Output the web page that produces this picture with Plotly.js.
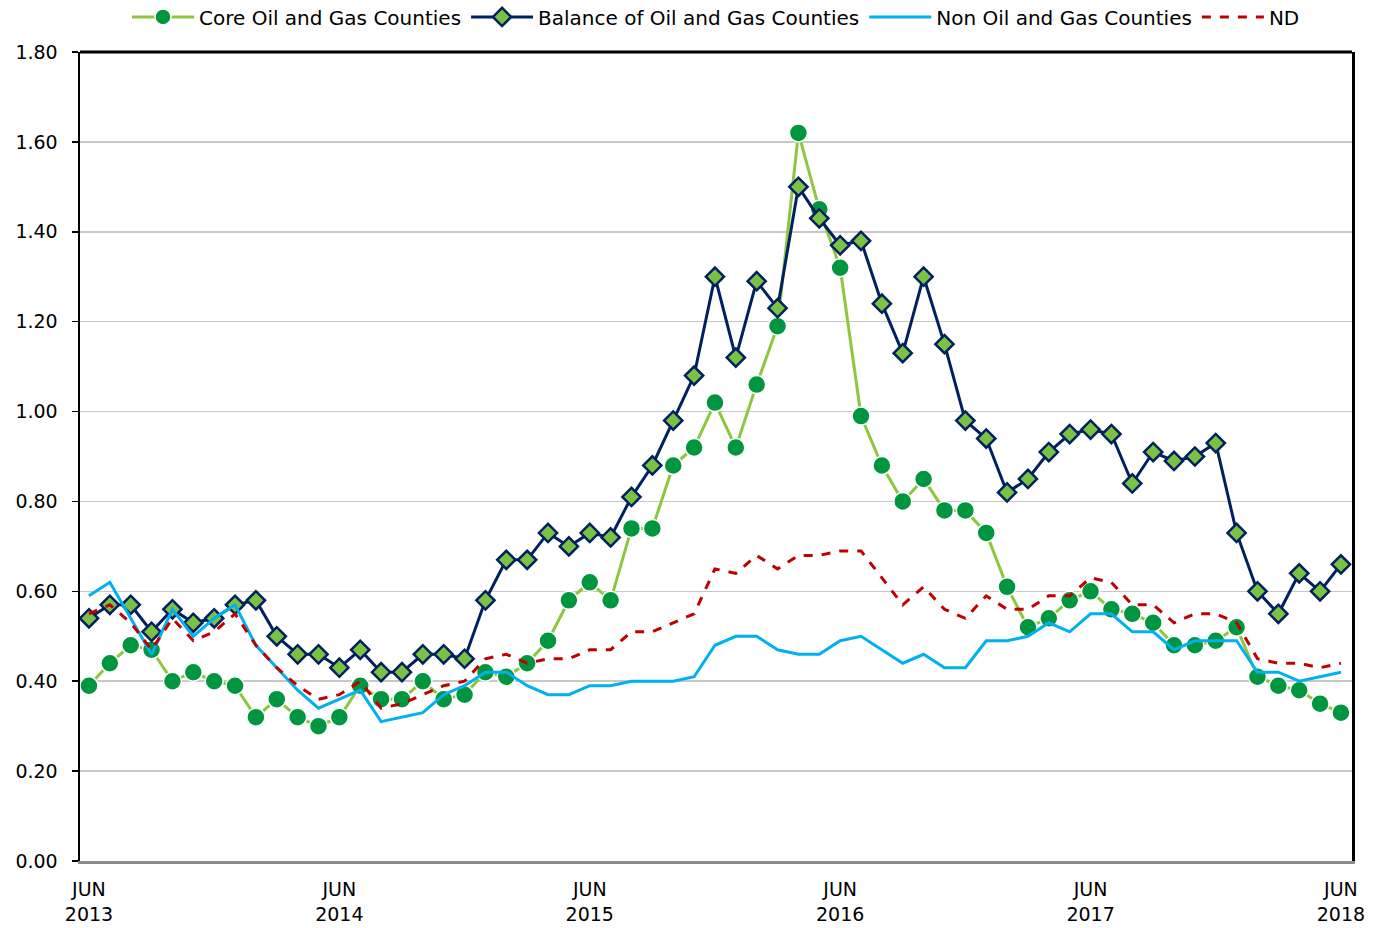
<!DOCTYPE html>
<html>
<head>
<meta charset="utf-8">
<script src="https://cdn.plot.ly/plotly-3.0.1.min.js"></script>
<style>html,body{margin:0;padding:0;background:#fff;}#chart{width:1380px;height:928px;}</style>
</head>
<body>
<div id="chart"></div>
<script>
const months = [
  "2013-06","2013-07","2013-08","2013-09","2013-10","2013-11","2013-12",
  "2014-01","2014-02","2014-03","2014-04","2014-05","2014-06","2014-07","2014-08","2014-09","2014-10","2014-11","2014-12",
  "2015-01","2015-02","2015-03","2015-04","2015-05","2015-06","2015-07","2015-08","2015-09","2015-10","2015-11","2015-12",
  "2016-01","2016-02","2016-03","2016-04","2016-05","2016-06","2016-07","2016-08","2016-09","2016-10","2016-11","2016-12",
  "2017-01","2017-02","2017-03","2017-04","2017-05","2017-06","2017-07","2017-08","2017-09","2017-10","2017-11","2017-12",
  "2018-01","2018-02","2018-03","2018-04","2018-05","2018-06"
];

const coreOilGas = [
  0.39,0.44,0.48,0.47,0.40,0.42,0.40,0.39,0.32,0.36,0.32,0.30,
  0.32,0.39,0.36,0.36,0.40,0.36,0.37,0.42,0.41,0.44,0.49,0.58,
  0.62,0.58,0.74,0.74,0.88,0.92,1.02,0.92,1.06,1.19,1.62,1.45,
  1.32,0.99,0.88,0.80,0.85,0.78,0.78,0.73,0.61,0.52,0.54,0.58,
  0.60,0.56,0.55,0.53,0.48,0.48,0.49,0.52,0.41,0.39,0.38,0.35,
  0.33
];

const balanceOilGas = [
  0.54,0.57,0.57,0.51,0.56,0.53,0.54,0.57,0.58,0.50,0.46,0.46,
  0.43,0.47,0.42,0.42,0.46,0.46,0.45,0.58,0.67,0.67,0.73,0.70,
  0.73,0.72,0.81,0.88,0.98,1.08,1.30,1.12,1.29,1.23,1.50,1.43,
  1.37,1.38,1.24,1.13,1.30,1.15,0.98,0.94,0.82,0.85,0.91,0.95,
  0.96,0.95,0.84,0.91,0.89,0.90,0.93,0.73,0.60,0.55,0.64,0.60,
  0.66
];

const nonOilGas = [
  0.59,0.62,0.54,0.46,0.56,0.50,0.54,0.57,0.48,0.43,0.38,0.34,
  0.36,0.38,0.31,0.32,0.33,0.37,0.39,0.42,0.42,0.39,0.37,0.37,
  0.39,0.39,0.40,0.40,0.40,0.41,0.48,0.50,0.50,0.47,0.46,0.46,
  0.49,0.50,0.47,0.44,0.46,0.43,0.43,0.49,0.49,0.50,0.53,0.51,
  0.55,0.55,0.51,0.51,0.47,0.49,0.49,0.49,0.42,0.42,0.40,0.41,
  0.42
];

const ndState = [
  0.55,0.57,0.53,0.47,0.54,0.49,0.51,0.55,0.48,0.43,0.39,0.36,
  0.37,0.40,0.34,0.35,0.37,0.39,0.40,0.45,0.46,0.44,0.45,0.45,
  0.47,0.47,0.51,0.51,0.53,0.55,0.65,0.64,0.68,0.65,0.68,0.68,
  0.69,0.69,0.63,0.57,0.61,0.56,0.54,0.59,0.56,0.56,0.59,0.59,
  0.63,0.62,0.57,0.57,0.53,0.55,0.55,0.53,0.45,0.44,0.44,0.43,
  0.44
];

const tickMonths = ["2013-06","2014-06","2015-06","2016-06","2017-06","2018-06"];
const tickLabels = ["JUN<br>2013","JUN<br>2014","JUN<br>2015","JUN<br>2016","JUN<br>2017","JUN<br>2018"];
const yTicks = [0,0.2,0.4,0.6,0.8,1.0,1.2,1.4,1.6,1.8];

const FONT = "'DejaVu Sans', sans-serif";

const traces = [
  {
    x: months, y: coreOilGas, name: "Core Oil and Gas Counties", type: "scatter", mode: "lines+markers",
    line: {color: "#8DC63F", width: 3},
    marker: {symbol: "circle", size: 18, color: "#00963F", line: {color: "#FFFFFF", width: 1.5}}
  },
  {
    x: months, y: balanceOilGas, name: "Balance of Oil and Gas Counties", type: "scatter", mode: "lines+markers",
    line: {color: "#002060", width: 3},
    marker: {symbol: "diamond", size: 14, color: "#7CC242", line: {color: "#002060", width: 2.5}}
  },
  {
    x: months, y: nonOilGas, name: "Non Oil and Gas Counties", type: "scatter", mode: "lines",
    line: {color: "#00B0F0", width: 3}
  },
  {
    x: months, y: ndState, name: "ND", type: "scatter", mode: "lines",
    line: {color: "#C00000", width: 3, dash: "dash"}
  }
];

const layout = {
  width: 1380, height: 928,
  margin: {l: 80, r: 28, t: 52, b: 67, autoexpand: false},
  paper_bgcolor: "#FFFFFF", plot_bgcolor: "#FFFFFF",
  font: {family: FONT, size: 19, color: "#000000"},
  showlegend: true,
  legend: {
    orientation: "h", x: 0.5, xanchor: "center", y: 1.0433, yanchor: "middle",
    font: {family: FONT, size: 20, color: "#000000"},
    itemwidth: 62, traceorder: "normal", tracegroupgap: 0, bgcolor: "rgba(0,0,0,0)"
  },
  xaxis: {
    type: "category",
    range: [-0.43, 60.53],
    tickmode: "array", tickvals: tickMonths, ticktext: tickLabels,
    showgrid: false, zeroline: false,
    showline: true, linecolor: "#8C8C8C", linewidth: 3,
    ticks: "", tickfont: {family: FONT, size: 19, color: "#000"},
    ticklabelstandoff: 9
  },
  yaxis: {
    range: [0, 1.8],
    tickmode: "array", tickvals: yTicks, tickformat: ".2f",
    showgrid: true, gridcolor: "#C8C8C8", gridwidth: 1.5,
    zeroline: false,
    showline: true, mirror: true, linecolor: "#000000", linewidth: 2.5,
    ticks: "outside", ticklen: 6, tickcolor: "#000000", tickwidth: 1.5,
    tickfont: {family: FONT, size: 19, color: "#000"},
    ticklabelstandoff: 10
  },
  shapes: [
    {type: "line", xref: "paper", yref: "paper", x0: 0, x1: 1, y0: 1, y1: 1, line: {color: "#000000", width: 3}}
  ]
};

Plotly.newPlot("chart", traces, layout, {displayModeBar: false, staticPlot: true});
</script>
</body>
</html>
